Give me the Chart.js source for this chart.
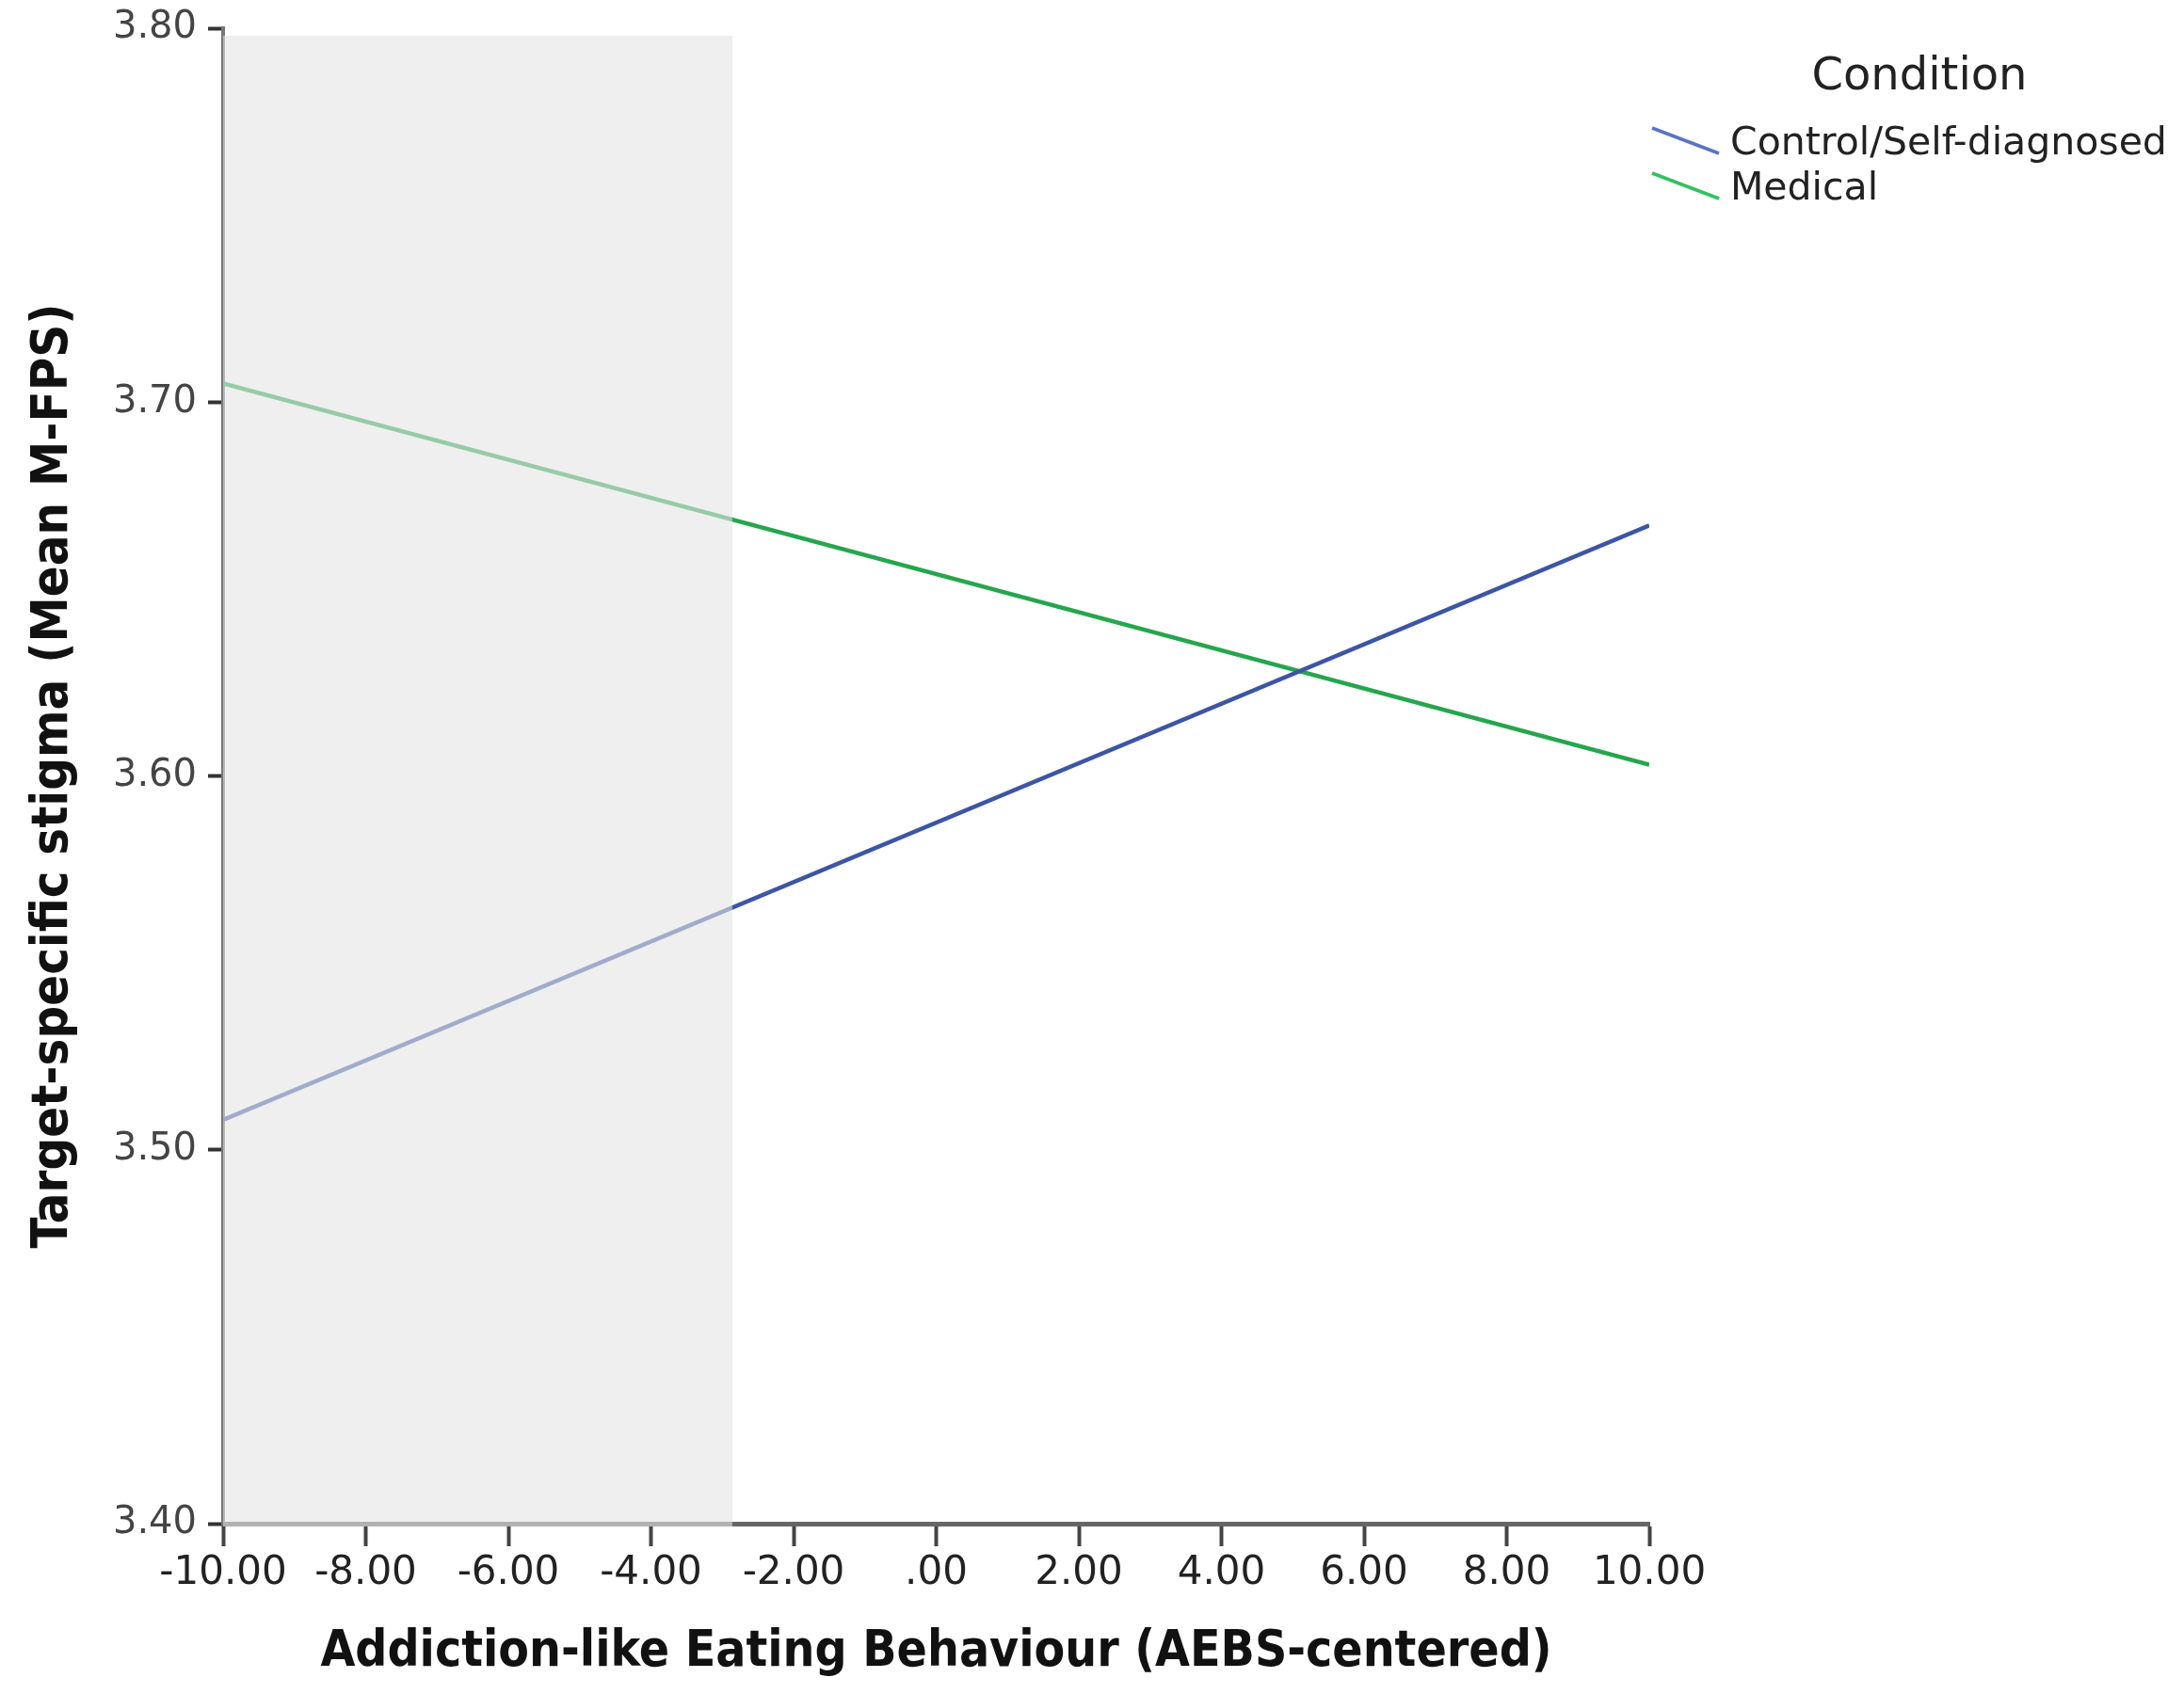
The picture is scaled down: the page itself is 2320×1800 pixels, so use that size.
<!DOCTYPE html>
<html>
<head>
<meta charset="utf-8">
<script src="https://cdn.jsdelivr.net/npm/chart.js@4.4.1/dist/chart.umd.min.js"></script>
<style>
  html, body { margin: 0; padding: 0; background: #ffffff; }
  #wrap { width: 2320px; height: 1800px; }
</style>
</head>
<body>
<div id="wrap"><canvas id="c" width="2320" height="1800"></canvas></div>
<script>
// ---- data ----
const xValues = [-10, 10];
const controlValues = [3.508, 3.667];
const medicalValues = [3.705, 3.603];
const seriesLabels = ['Control/Self-diagnosed', 'Medical'];
const legendTitle = 'Condition';
const xTicks = [-10, -8, -6, -4, -2, 0, 2, 4, 6, 8, 10];
const xTickLabels = ['-10.00', '-8.00', '-6.00', '-4.00', '-2.00', '.00', '2.00', '4.00', '6.00', '8.00', '10.00'];
const yTicks = [3.40, 3.50, 3.60, 3.70, 3.80];
const yTickLabels = ['3.40', '3.50', '3.60', '3.70', '3.80'];
const shadedX = [-10, -2.86];
const shadedY = [3.40, 3.798];
const xTitle = 'Addiction-like Eating Behaviour (AEBS-centered)';
const yTitle = 'Target-specific stigma (Mean M-FPS)';

const shadePlugin = {
  id: 'shade',
  afterDraw(chart) {
    const { x, y } = chart.scales;
    const ctx = chart.ctx;
    const l = x.getPixelForValue(shadedX[0]);
    const r = x.getPixelForValue(shadedX[1]);
    const t = y.getPixelForValue(shadedY[1]);
    const b = y.getPixelForValue(shadedY[0]) + 3;
    ctx.save();
    ctx.fillStyle = 'rgba(228,228,228,0.6)';
    ctx.fillRect(l, t, r - l, b - t);
    ctx.restore();
  }
};

const legendPlugin = {
  id: 'spssLegend',
  afterDraw(chart) {
    const ctx = chart.ctx;
    const x0 = chart.chartArea.right;
    ctx.save();
    ctx.fillStyle = '#222';
    ctx.font = '48px "DejaVu Sans"';
    ctx.textAlign = 'center';
    ctx.textBaseline = 'middle';
    ctx.fillText(legendTitle, x0 + 287, 83);
    chart.data.datasets.forEach((ds, i) => {
      const yc = 153 + i * 48;
      ctx.strokeStyle = ds.legendColor;
      ctx.lineWidth = 3.5;
      ctx.beginPath();
      ctx.moveTo(x0 + 3, yc - 17);
      ctx.lineTo(x0 + 74, yc + 10);
      ctx.stroke();
      ctx.fillStyle = '#222';
      ctx.textAlign = 'left';
      ctx.font = '41px "DejaVu Sans"';
      ctx.fillText(ds.label, x0 + 86, yc);
    });
    ctx.restore();
  }
};

new Chart(document.getElementById('c'), {
  type: 'line',
  data: {
    datasets: [
      {
        label: seriesLabels[0],
        data: xValues.map((x, i) => ({ x, y: controlValues[i] })),
        borderColor: '#3c55a5',
        legendColor: '#5a74c4',
        borderWidth: 4.5,
        pointRadius: 0,
        fill: false,
        tension: 0
      },
      {
        label: seriesLabels[1],
        data: xValues.map((x, i) => ({ x, y: medicalValues[i] })),
        borderColor: '#25a64d',
        legendColor: '#33c060',
        borderWidth: 4.5,
        pointRadius: 0,
        fill: false,
        tension: 0
      }
    ]
  },
  options: {
    responsive: false,
    devicePixelRatio: 1,
    animation: false,
    layout: { padding: { top: 30, right: 568, bottom: 0, left: 0 } },
    plugins: { legend: { display: false }, tooltip: { enabled: false } },
    scales: {
      x: {
        type: 'linear',
        min: xTicks[0],
        max: xTicks[xTicks.length - 1],
        afterBuildTicks: s => { s.ticks = xTicks.map(v => ({ value: v })); },
        afterFit: s => { s.height = 181; },
        grid: { display: true, drawOnChartArea: false, drawTicks: true, tickLength: 24, tickWidth: 4, tickColor: '#444' },
        border: { display: true, color: '#666', width: 5 },
        ticks: {
          callback: (v, i) => xTickLabels[i],
          font: { family: 'DejaVu Sans', size: 42 },
          color: '#222',
          padding: 4,
          maxRotation: 0,
          autoSkip: false
        },
        title: {
          display: true,
          text: xTitle,
          font: { family: '"Liberation Sans Narrow", "DejaVu Sans Condensed", sans-serif', weight: 'bold', size: 53 },
          color: '#111',
          padding: { top: 0, bottom: 12 }
        }
      },
      y: {
        type: 'linear',
        min: yTicks[0],
        max: yTicks[yTicks.length - 1],
        afterBuildTicks: s => { s.ticks = yTicks.map(v => ({ value: v })); },
        afterFit: s => { s.width = 237; s.paddingTop = 0; s.paddingBottom = 0; },
        grid: { display: true, drawOnChartArea: false, drawTicks: true, tickLength: 16, tickWidth: 4, tickColor: '#333' },
        border: { display: true, color: '#777', width: 4 },
        ticks: {
          callback: (v, i) => yTickLabels[i],
          font: { family: 'DejaVu Sans', size: 40 },
          color: '#444',
          padding: 12,
          autoSkip: false
        },
        title: {
          display: true,
          text: yTitle,
          font: { family: '"Liberation Sans Narrow", "DejaVu Sans Condensed", sans-serif', weight: 'bold', size: 54 },
          color: '#111',
          padding: { top: 25, bottom: 0 }
        }
      }
    }
  },
  plugins: [shadePlugin, legendPlugin]
});
</script>
</body>
</html>
